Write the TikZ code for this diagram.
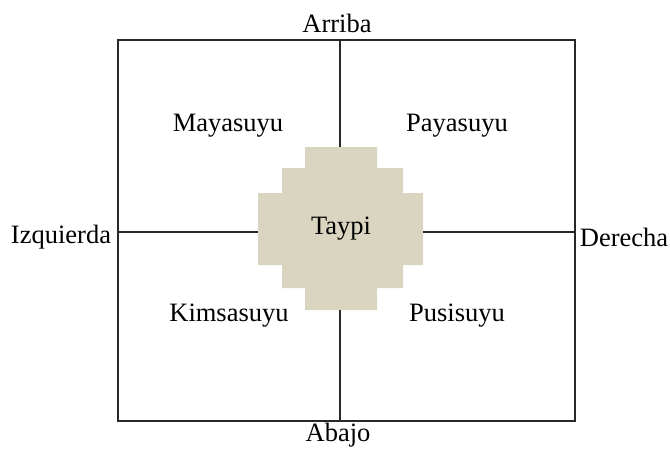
\documentclass[tikz,border=0pt]{standalone}
\usepackage{fontspec}
\setmainfont{Liberation Serif}
\definecolor{taupe}{RGB}{217,213,192}
\definecolor{linec}{RGB}{40,40,40}
\begin{document}
\begin{tikzpicture}[x=1pt,y=-1pt,
  lbl/.style={font=\fontsize{26.5}{30}\selectfont, text=black, inner sep=0pt},
  frame/.style={draw=linec, line width=1.1pt}]
\useasboundingbox (0,0) rectangle (670,448);
% central stepped shape
\fill[taupe] (305,147) -- (377,147) -- (377,168) -- (403,168) -- (403,193) -- (423,193)
  -- (423,265) -- (403,265) -- (403,288) -- (377,288) -- (377,310) -- (305,310)
  -- (305,288) -- (282,288) -- (282,265) -- (258,265) -- (258,193) -- (282,193)
  -- (282,168) -- (305,168) -- cycle;
% frame
\coordinate (tl) at (118,40);
\coordinate (br) at (575,421);
\coordinate (top) at (340,40);
\coordinate (bot) at (340,421);
\coordinate (lft) at (118,232);
\coordinate (rgt) at (575,232);
\draw[frame] (tl) rectangle (br);
\draw[frame] (top) -- (340,147);
\draw[frame] (340,310) -- (bot);
\draw[frame] (lft) -- (258,232);
\draw[frame] (423,232) -- (rgt);
% labels
\node[lbl] (taypi) at (341,229) {Taypi};
\node[lbl] (maya) at (228,126) {Mayasuyu};
\node[lbl] (paya) at (457,126) {Payasuyu};
\node[lbl] (kimsa) at (229,316) {Kimsasuyu};
\node[lbl] (pusi) at (457,316) {Pusisuyu};
\node[lbl] (arriba) at (337,23) {Arriba};
\node[lbl] (abajo) at (338,435) {Abajo};
\node[lbl] (izq) at (61,237) {Izquierda};
\node[lbl] (der) at (624,237) {Derecha};
\end{tikzpicture}
\end{document}
